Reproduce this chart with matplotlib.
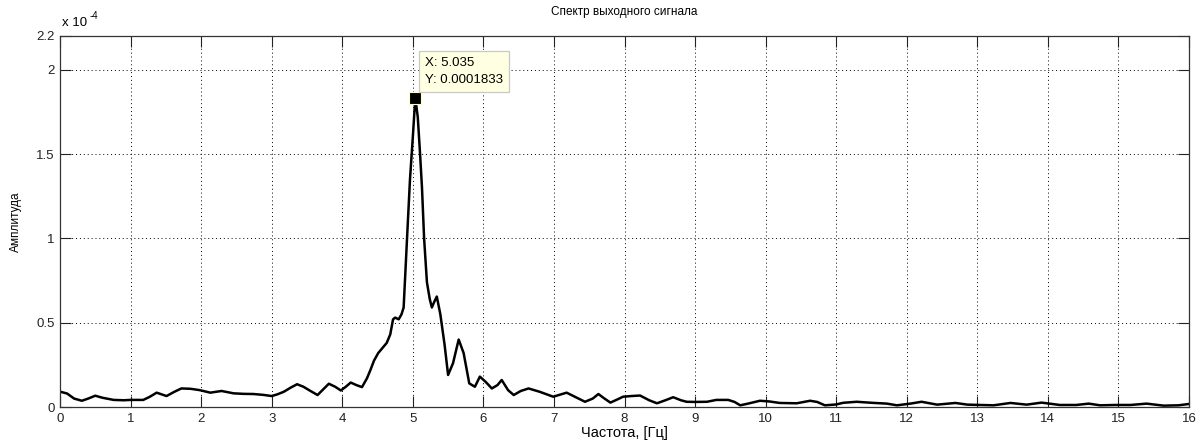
import numpy as np
import matplotlib
matplotlib.use("Agg")
import matplotlib.pyplot as plt
from matplotlib.ticker import FuncFormatter

plt.rcParams['font.family'] = ['Liberation Sans', 'DejaVu Sans']

# Spectrum of the output signal (amplitude in units of 1e-4)
freq_hz = [
    0.00, 0.10, 0.20, 0.31, 0.40, 0.50, 0.60, 0.76, 0.90, 1.00, 1.18, 1.27,
    1.37, 1.51, 1.62, 1.72, 1.85, 1.98, 2.13, 2.29, 2.46, 2.60, 2.74, 2.88,
    3.00, 3.08, 3.17, 3.27, 3.36, 3.45, 3.55, 3.65, 3.72, 3.81, 3.90, 3.98,
    4.05, 4.12, 4.20, 4.28, 4.35, 4.40, 4.45, 4.51, 4.57, 4.63, 4.68, 4.72,
    4.75, 4.80, 4.84, 4.87, 4.90, 4.93, 4.96, 5.00, 5.035, 5.07, 5.10, 5.13,
    5.16, 5.20, 5.24, 5.27, 5.30, 5.34, 5.39, 5.45, 5.50, 5.57, 5.65, 5.72,
    5.80, 5.88, 5.95, 6.03, 6.12, 6.20, 6.26, 6.35, 6.43, 6.53, 6.64, 6.80,
    6.99, 7.10, 7.18, 7.30, 7.44, 7.55, 7.63, 7.70, 7.80, 7.90, 7.98, 8.10,
    8.22, 8.35, 8.46, 8.58, 8.69, 8.80, 8.88, 9.00, 9.17, 9.30, 9.47, 9.56,
    9.64, 9.75, 9.92, 10.05, 10.20, 10.44, 10.63, 10.73, 10.84, 11.00, 11.10,
    11.29, 11.50, 11.72, 11.86, 12.05, 12.21, 12.43, 12.69, 12.86, 13.05,
    13.23, 13.47, 13.70, 13.91, 14.17, 14.40, 14.58, 14.74, 14.95, 15.17,
    15.40, 15.64, 15.85, 16.00,
]
amp_e4 = [
    0.091, 0.080, 0.050, 0.037, 0.050, 0.067, 0.055, 0.042, 0.040, 0.042, 0.042, 0.060,
    0.085, 0.065, 0.090, 0.110, 0.108, 0.100, 0.085, 0.095, 0.081, 0.078, 0.077, 0.072,
    0.065, 0.075, 0.090, 0.115, 0.135, 0.120, 0.095, 0.071, 0.100, 0.138, 0.120, 0.098,
    0.120, 0.145, 0.130, 0.118, 0.170, 0.220, 0.275, 0.320, 0.350, 0.380, 0.430, 0.520,
    0.530, 0.520, 0.550, 0.590, 0.850, 1.100, 1.350, 1.600, 1.833, 1.720, 1.520, 1.300,
    1.000, 0.740, 0.640, 0.590, 0.620, 0.655, 0.550, 0.370, 0.190, 0.260, 0.400, 0.320,
    0.140, 0.120, 0.180, 0.150, 0.110, 0.130, 0.160, 0.100, 0.071, 0.095, 0.110, 0.090,
    0.061, 0.075, 0.085, 0.060, 0.031, 0.050, 0.077, 0.055, 0.026, 0.045, 0.061, 0.065,
    0.068, 0.040, 0.022, 0.040, 0.058, 0.040, 0.031, 0.030, 0.031, 0.042, 0.042, 0.030,
    0.010, 0.020, 0.037, 0.033, 0.024, 0.022, 0.037, 0.030, 0.010, 0.015, 0.025,
    0.031, 0.025, 0.020, 0.010, 0.020, 0.031, 0.014, 0.024, 0.014, 0.012,
    0.010, 0.024, 0.014, 0.026, 0.012, 0.012, 0.020, 0.010, 0.012, 0.012,
    0.020, 0.008, 0.010, 0.018,
]
scale = 1e-4
peak_x = 5.035
peak_y = 0.0001833

x_ticks = list(range(0, 17))
y_ticks_e4 = [0, 0.5, 1, 1.5, 2, 2.2]

freq = np.array(freq_hz)
amp = np.array(amp_e4) * scale

fig = plt.figure(figsize=(11.96, 4.46), dpi=100)
ax = fig.add_axes([60 / 1196, 39 / 446, 1129 / 1196, 371 / 446])

ax.plot(freq, amp, color='black', linewidth=1.8)
ax.set_xlim(0, 16)
ax.set_ylim(0, 2.2 * scale)
ax.set_xticks(x_ticks)
ax.set_yticks([v * scale for v in y_ticks_e4])
ax.yaxis.set_major_formatter(FuncFormatter(lambda v, p: f"{v / scale:g}"))

ax.grid(True, color='black', linestyle=(0, (1, 3)), linewidth=0.7)
ax.tick_params(direction='in', length=8, width=0.8, top=True, right=True,
               labelsize=9.5, pad=4, colors='#222222')
for s in ax.spines.values():
    s.set_color('#333333')
    s.set_linewidth(0.9)

ax.set_title('Спектр выходного сигнала', fontsize=8.5, pad=15)
ax.set_xlabel('Частота, [Гц]', fontsize=10.5, labelpad=1)
ax.set_ylabel('Амплитуда', fontsize=8.5, labelpad=10)

# axis multiplier
ax.text(0.0015, 1.018, 'x 10', transform=ax.transAxes, fontsize=9.5, ha='left', va='bottom')
ax.text(0.0265, 1.040, '-4', transform=ax.transAxes, fontsize=7, ha='left', va='bottom')

# data tip at the spectral peak
ax.plot([peak_x], [peak_y], marker='s', markersize=8, color='black',
        markeredgecolor='#FFFFC0', markeredgewidth=0.8, linestyle='none', zorder=5)
ax.annotate(f"X: {peak_x}\nY: {peak_y}", xy=(peak_x, peak_y),
            xytext=(10, 12), textcoords='offset pixels', ha='left', va='bottom',
            fontsize=9.5, linespacing=1.5,
            bbox=dict(boxstyle='square,pad=0.45', fc='#FFFFE1', ec='#C8C8C8', lw=0.9),
            zorder=6)

fig.savefig('out.png', dpi=100)
